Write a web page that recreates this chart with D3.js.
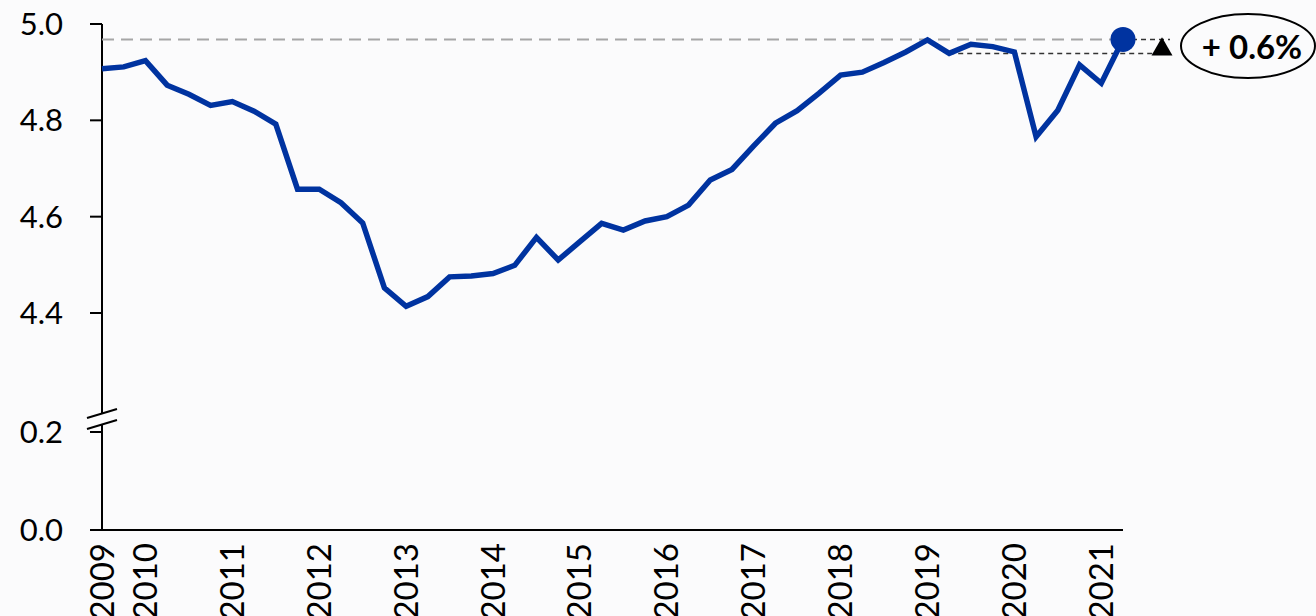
<!DOCTYPE html>
<html>
<head>
<meta charset="utf-8">
<script src="https://cdn.jsdelivr.net/npm/d3@7"></script>
<style>
  html, body { margin: 0; padding: 0; background: #fbfbfc; }
  svg { display: block; font-family: Lato, "Open Sans", sans-serif; }
</style>
</head>
<body>
<div id="chart"></div>
<script>
// quarterly series, 2009 Q3 - 2021 Q2
var quarters = [
  '2009Q3','2009Q4',
  '2010Q1','2010Q2','2010Q3','2010Q4',
  '2011Q1','2011Q2','2011Q3','2011Q4',
  '2012Q1','2012Q2','2012Q3','2012Q4',
  '2013Q1','2013Q2','2013Q3','2013Q4',
  '2014Q1','2014Q2','2014Q3','2014Q4',
  '2015Q1','2015Q2','2015Q3','2015Q4',
  '2016Q1','2016Q2','2016Q3','2016Q4',
  '2017Q1','2017Q2','2017Q3','2017Q4',
  '2018Q1','2018Q2','2018Q3','2018Q4',
  '2019Q1','2019Q2','2019Q3','2019Q4',
  '2020Q1','2020Q2','2020Q3','2020Q4',
  '2021Q1','2021Q2'
];
var values = [
  4.907, 4.911,
  4.924, 4.873, 4.854, 4.831,
  4.839, 4.819, 4.792, 4.657,
  4.657, 4.629, 4.587, 4.452,
  4.414, 4.434, 4.475, 4.477,
  4.482, 4.499, 4.557, 4.510,
  4.548, 4.586, 4.572, 4.591,
  4.600, 4.624, 4.676, 4.698,
  4.747, 4.794, 4.820, 4.856,
  4.894, 4.900, 4.920, 4.942,
  4.967, 4.939, 4.958, 4.953,
  4.942, 4.766, 4.821, 4.915,
  4.877, 4.968
];
var yearTicks = ['2009Q3','2010Q1','2011Q1','2012Q1','2013Q1','2014Q1','2015Q1',
                 '2016Q1','2017Q1','2018Q1','2019Q1','2020Q1','2021Q1'];
var yearLabels = ['2009','2010','2011','2012','2013','2014','2015',
                  '2016','2017','2018','2019','2020','2021'];
var upperTicks = [5.0, 4.8, 4.6, 4.4];
var lowerTicks = [0.2, 0.0];
var baseQuarter = '2019Q2';
var changeLabel = '+ 0.6%';

var width = 1316, height = 616;
var svg = d3.select('#chart').append('svg')
            .attr('width', width)
            .attr('height', height);

svg.append('rect').attr('width', width).attr('height', height).attr('fill', '#fbfbfc');

var x = d3.scalePoint().domain(quarters).range([102, 1123]);
var yTop = d3.scaleLinear().domain([4.4, 5.0]).range([313, 24]);
var yBot = d3.scaleLinear().domain([0, 0.2]).range([530, 432]);
var axisX = 102;

// y axis line
svg.append('line')
   .attr('x1', axisX).attr('x2', axisX)
   .attr('y1', yTop(5.0)).attr('y2', yBot(0))
   .attr('stroke', '#000').attr('stroke-width', 2);

// y ticks + labels
var tickData = upperTicks.map(function(v) { return {v: v, y: yTop(v)}; })
  .concat(lowerTicks.map(function(v) { return {v: v, y: yBot(v)}; }));

svg.selectAll('line.ytick')
   .data(tickData)
   .enter()
   .append('line')
     .attr('class', 'ytick')
     .attr('x1', axisX - 12).attr('x2', axisX)
     .attr('y1', function(d) { return d.y; })
     .attr('y2', function(d) { return d.y; })
     .attr('stroke', '#000').attr('stroke-width', 2);

svg.selectAll('text.ylab')
   .data(tickData)
   .enter()
   .append('text')
     .attr('class', 'ylab')
     .attr('x', 63)
     .attr('y', function(d) { return d.y; })
     .attr('dy', '0.35em')
     .attr('text-anchor', 'end')
     .attr('font-size', 31)
     .attr('fill', '#000')
     .text(function(d) { return d3.format('.1f')(d.v); });

// axis break
svg.append('path')
   .attr('d', 'M87,418 L117,409 L117,420 L87,429 Z')
   .attr('fill', '#fbfbfc');
svg.append('line').attr('x1', 87).attr('y1', 418).attr('x2', 117).attr('y2', 409)
   .attr('stroke', '#000').attr('stroke-width', 2);
svg.append('line').attr('x1', 87).attr('y1', 429).attr('x2', 117).attr('y2', 420)
   .attr('stroke', '#000').attr('stroke-width', 2);

// x axis
svg.append('line')
   .attr('x1', 90).attr('x2', x(quarters[quarters.length - 1]))
   .attr('y1', yBot(0)).attr('y2', yBot(0))
   .attr('stroke', '#000').attr('stroke-width', 2);

svg.selectAll('text.xlab')
   .data(yearTicks)
   .enter()
   .append('text')
     .attr('class', 'xlab')
     .attr('transform', function(d) { return 'translate(' + x(d) + ',543) rotate(-90)'; })
     .attr('dy', '0.35em')
     .attr('text-anchor', 'end')
     .attr('font-size', 33)
     .attr('fill', '#000')
     .text(function(d, i) { return yearLabels[i]; });

// reference lines
var last = quarters[quarters.length - 1];
var lastVal = values[values.length - 1];
var baseVal = values[quarters.indexOf(baseQuarter)];

svg.append('line')
   .attr('x1', axisX).attr('x2', x(last))
   .attr('y1', yTop(lastVal)).attr('y2', yTop(lastVal))
   .attr('stroke', '#a6a6a6').attr('stroke-width', 2)
   .attr('stroke-dasharray', '12,7');
svg.append('line')
   .attr('x1', x(last)).attr('x2', 1170)
   .attr('y1', yTop(lastVal)).attr('y2', yTop(lastVal))
   .attr('stroke', '#333').attr('stroke-width', 1.5)
   .attr('stroke-dasharray', '5,4');
svg.append('line')
   .attr('x1', x(baseQuarter)).attr('x2', 1170)
   .attr('y1', yTop(baseVal)).attr('y2', yTop(baseVal))
   .attr('stroke', '#333').attr('stroke-width', 1.5)
   .attr('stroke-dasharray', '5,4');

// series line
var line = d3.line()
  .x(function(d, i) { return x(quarters[i]); })
  .y(function(d) { return yTop(d); });

svg.append('path')
   .datum(values)
   .attr('d', line)
   .attr('fill', 'none')
   .attr('stroke', '#0033a0')
   .attr('stroke-width', 5.5)
   .attr('stroke-linejoin', 'miter');

svg.append('circle')
   .attr('cx', x(last)).attr('cy', yTop(lastVal))
   .attr('r', 12.5)
   .attr('fill', '#0033a0');

// triangle marker
svg.append('path')
   .attr('d', d3.symbol().type(d3.symbolTriangle).size(190)())
   .attr('transform', 'translate(1162,' + ((yTop(lastVal) + yTop(baseVal)) / 2 + 3) + ')')
   .attr('fill', '#000');

// change label
svg.append('ellipse')
   .attr('cx', 1248).attr('cy', 46)
   .attr('rx', 67).attr('ry', 32)
   .attr('fill', '#fbfbfc')
   .attr('stroke', '#000').attr('stroke-width', 2);
svg.append('text')
   .attr('x', 1252).attr('y', 47)
   .attr('dy', '0.35em')
   .attr('text-anchor', 'middle')
   .attr('font-size', 33)
   .attr('font-weight', 'bold')
   .attr('fill', '#000')
   .text(changeLabel);
</script>
</body>
</html>
